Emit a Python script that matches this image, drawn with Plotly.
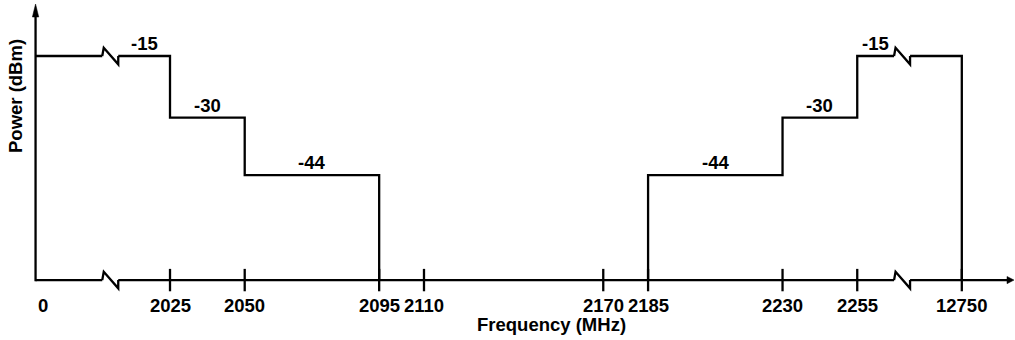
import plotly.graph_objects as go

# ---------------- data ----------------
TICK_FREQS = [0, 2025, 2050, 2095, 2110, 2170, 2185, 2230, 2255, 12750]
TICK_LABELS = ["0", "2025", "2050", "2095", "2110", "2170", "2185", "2230", "2255", "12750"]

LOW_EDGES = [0, 2025, 2050, 2095]      # lower band step edges (MHz)
LOW_LEVELS = [-15, -30, -44]           # dBm between the edges
HIGH_EDGES = [2185, 2230, 2255, 12750]  # upper band step edges (MHz)
HIGH_LEVELS = [-44, -30, -15]

FLOOR = -69.6   # bottom of the schematic power axis (dBm)

# ---------------- broken x scale ----------------
U_ZERO, U_TOP = 1980.0, 2290.0   # display positions of 0 and 12750 MHz
BREAK_L, BREAK_R = 2005.0, 2270.0
LIN_LO, LIN_HI = 2025.0, 2255.0


def xmap(f):
    if f < LIN_LO:
        return U_ZERO + f * (LIN_LO - U_ZERO) / LIN_LO
    if f > LIN_HI:
        return LIN_HI + (f - LIN_HI) * (U_TOP - LIN_HI) / (12750 - LIN_HI)
    return float(f)


W, H = 1015, 340
X_RANGE = [1968.1, 2307.8]
Y_RANGE = [-84.2, -1.35]
PXU = W / (X_RANGE[1] - X_RANGE[0])
PYU = H / (Y_RANGE[1] - Y_RANGE[0])
GAP = 8 / PXU  # half width of a break symbol in display units
FONT = "Liberation Sans, Arial, sans-serif"
LW = 2.3


def steps(edges, levels, start_floor, end_floor):
    xs, ys = [], []
    if start_floor:
        xs.append(xmap(edges[0])); ys.append(FLOOR)
    for i, lv in enumerate(levels):
        xs += [xmap(edges[i]), xmap(edges[i + 1])]
        ys += [lv, lv]
    if end_floor:
        xs.append(xmap(edges[-1])); ys.append(FLOOR)
    return xs, ys


def cut(xs, ys, ub):
    ox, oy = [], []
    for i in range(len(xs)):
        ox.append(xs[i]); oy.append(ys[i])
        if i + 1 < len(xs) and ys[i] == ys[i + 1] and min(xs[i], xs[i + 1]) < ub < max(xs[i], xs[i + 1]):
            ox += [ub - GAP, None, ub + GAP]
            oy += [ys[i], None, ys[i]]
    return ox, oy


lx, ly = cut(*steps(LOW_EDGES, LOW_LEVELS, False, True), BREAK_L)
hx, hy = cut(*steps(HIGH_EDGES, HIGH_LEVELS, True, True), BREAK_R)

fig = go.Figure()
line_style = dict(color="black", width=LW)
fig.add_trace(go.Scatter(x=lx, y=ly, mode="lines", line=line_style,
                         connectgaps=False, hoverinfo="skip", showlegend=False))
fig.add_trace(go.Scatter(x=hx, y=hy, mode="lines", line=line_style,
                         connectgaps=False, hoverinfo="skip", showlegend=False))

# tick marks crossing the axis
tick_u = [xmap(f) for f in TICK_FREQS[1:]]
fig.add_trace(go.Scatter(x=tick_u, y=[FLOOR] * len(tick_u), mode="markers",
                         marker=dict(symbol="line-ns", size=16, line=dict(color="black", width=LW)),
                         hoverinfo="skip", showlegend=False))

x_tip = X_RANGE[1] - 1 / PXU
y_tip = Y_RANGE[1] - 4 / PYU

shapes = []
# axis lines (broken x axis)
for a, b in [(xmap(0), BREAK_L - GAP), (BREAK_L + GAP, BREAK_R - GAP), (BREAK_R + GAP, x_tip - 6 / PXU)]:
    shapes.append(dict(type="line", xref="x", yref="y", x0=a, x1=b, y0=FLOOR, y1=FLOOR, line=line_style))
shapes.append(dict(type="line", xref="x", yref="y", x0=xmap(0), x1=xmap(0), y0=FLOOR - LW / 2 / PYU,
                   y1=y_tip - 12 / PYU, line=line_style))
# arrow heads
shapes.append(dict(type="path", xref="x", yref="y", xsizemode="pixel", ysizemode="pixel",
                   xanchor=xmap(0), yanchor=y_tip, path="M0,0 L-3.2,-13 L3.2,-13 Z",
                   fillcolor="black", line=dict(color="black", width=0.5)))
shapes.append(dict(type="path", xref="x", yref="y", xsizemode="pixel", ysizemode="pixel",
                   xanchor=x_tip, yanchor=FLOOR, path="M0,0 L-7,3.6 L-7,-3.6 Z",
                   fillcolor="black", line=dict(color="black", width=0.5)))
# break symbols
for ub, yv in [(BREAK_L, LOW_LEVELS[0]), (BREAK_L, FLOOR), (BREAK_R, HIGH_LEVELS[-1]), (BREAK_R, FLOOR)]:
    shapes.append(dict(type="path", xref="x", yref="y", xsizemode="pixel", ysizemode="pixel",
                       xanchor=ub, yanchor=yv, path="M-8,0 L-6.5,8.3 L8,-8.3 L8,0",
                       line=line_style))

annotations = []
lab_font = dict(family=FONT, size=18.5, color="black", weight="bold")


# level labels at centre of each visible step
def level_labels(edges, levels, ub, low):
    for i, lv in enumerate(levels):
        a, b = xmap(edges[i]), xmap(edges[i + 1])
        if a < ub < b:
            if low:
                a = ub + GAP
            else:
                b = ub - GAP
        annotations.append(dict(x=(a + b) / 2, y=lv, xref="x", yref="y", text=str(lv), showarrow=False,
                                yanchor="bottom", yshift=0, font=lab_font))


level_labels(LOW_EDGES, LOW_LEVELS, BREAK_L, True)
level_labels(HIGH_EDGES, HIGH_LEVELS, BREAK_R, False)

# tick labels
for f, t in zip(TICK_FREQS, TICK_LABELS):
    annotations.append(dict(x=xmap(f), y=FLOOR, xref="x", yref="y", text=t, showarrow=False,
                            xanchor="left" if f == 0 else "center", yanchor="top", yshift=-13,
                            font=lab_font))

annotations.append(dict(x=551 / W, y=0, xref="paper", yref="paper", text="Frequency (MHz)", showarrow=False,
                        xanchor="center", yanchor="bottom", yshift=3, font=lab_font))
annotations.append(dict(x=15 / W, y=1 - 96 / H, xref="paper", yref="paper", text="Power (dBm)",
                        showarrow=False, textangle=-90, xanchor="center", yanchor="middle",
                        font=lab_font))

fig.update_layout(
    width=W, height=H, margin=dict(l=0, r=0, t=0, b=0),
    paper_bgcolor="white", plot_bgcolor="white",
    xaxis=dict(range=X_RANGE, visible=False, fixedrange=True),
    yaxis=dict(range=Y_RANGE, visible=False, fixedrange=True),
    shapes=shapes, annotations=annotations, showlegend=False,
)

fig.write_html("out.html")
